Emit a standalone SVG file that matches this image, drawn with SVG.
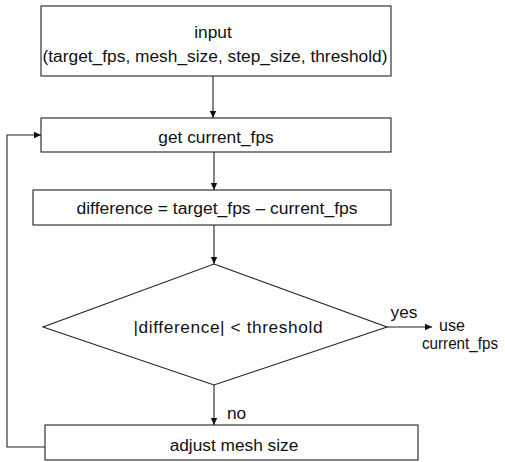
<svg xmlns="http://www.w3.org/2000/svg" width="505" height="462" viewBox="0 0 505 462">
<defs>
<style>
.box{fill:#fff;stroke:#222;stroke-width:1.1}
.ln{fill:none;stroke:#222;stroke-width:1.1}
text{font-family:"Liberation Sans",Arial,sans-serif;font-size:17.3px;fill:#111}
.c{text-anchor:middle}
.s{font-size:16px}
</style>
<marker id="ah" markerWidth="8" markerHeight="8" refX="7" refY="4" orient="auto" markerUnits="userSpaceOnUse">
<path d="M0,0.8 L7,4 L0,7.2 Z" fill="#111"/>
</marker>
</defs>
<rect width="505" height="462" fill="#fff"/>
<g id="connectors">
<line class="ln" x1="213" y1="76" x2="213" y2="118" marker-end="url(#ah)"/>
<line class="ln" x1="214" y1="152" x2="214" y2="190" marker-end="url(#ah)"/>
<line class="ln" x1="214" y1="225" x2="214" y2="264" marker-end="url(#ah)"/>
<line class="ln" x1="214" y1="385" x2="214" y2="425" marker-end="url(#ah)"/>
<line class="ln" x1="387" y1="327" x2="432" y2="327" marker-end="url(#ah)"/>
<polyline class="ln" points="45,447 7,447 7,135 41,135" marker-end="url(#ah)"/>
<text x="404" y="318" class="c">yes</text>
<text x="227" y="419">no</text>
</g>
<g id="input">
<rect class="box" x="41" y="6" width="350" height="70"/>
<text x="213" y="38" class="c">input</text>
<text x="215" y="62" class="c" textLength="345" lengthAdjust="spacingAndGlyphs">(target_fps, mesh_size, step_size, threshold)</text>
</g>
<g id="get">
<rect class="box" x="41" y="118" width="350" height="34"/>
<text x="216" y="143" class="c">get current_fps</text>
</g>
<g id="diff">
<rect class="box" x="33" y="190" width="358" height="35"/>
<text x="217" y="214" class="c" textLength="281" lengthAdjust="spacingAndGlyphs">difference = target_fps – current_fps</text>
</g>
<g id="decision">
<polygon class="box" points="214,264 387,327 214,385 43,327"/>
<text x="228" y="333" class="c" textLength="189" lengthAdjust="spacing">|difference| &lt; threshold</text>
</g>
<g id="use">
<text x="452" y="331" class="c s">use</text>
<text x="460" y="349" class="c s" textLength="76" lengthAdjust="spacingAndGlyphs">current_fps</text>
</g>
<g id="adjust">
<rect class="box" x="45" y="425" width="373" height="35"/>
<text x="234" y="451" class="c">adjust mesh size</text>
</g>
</svg>
